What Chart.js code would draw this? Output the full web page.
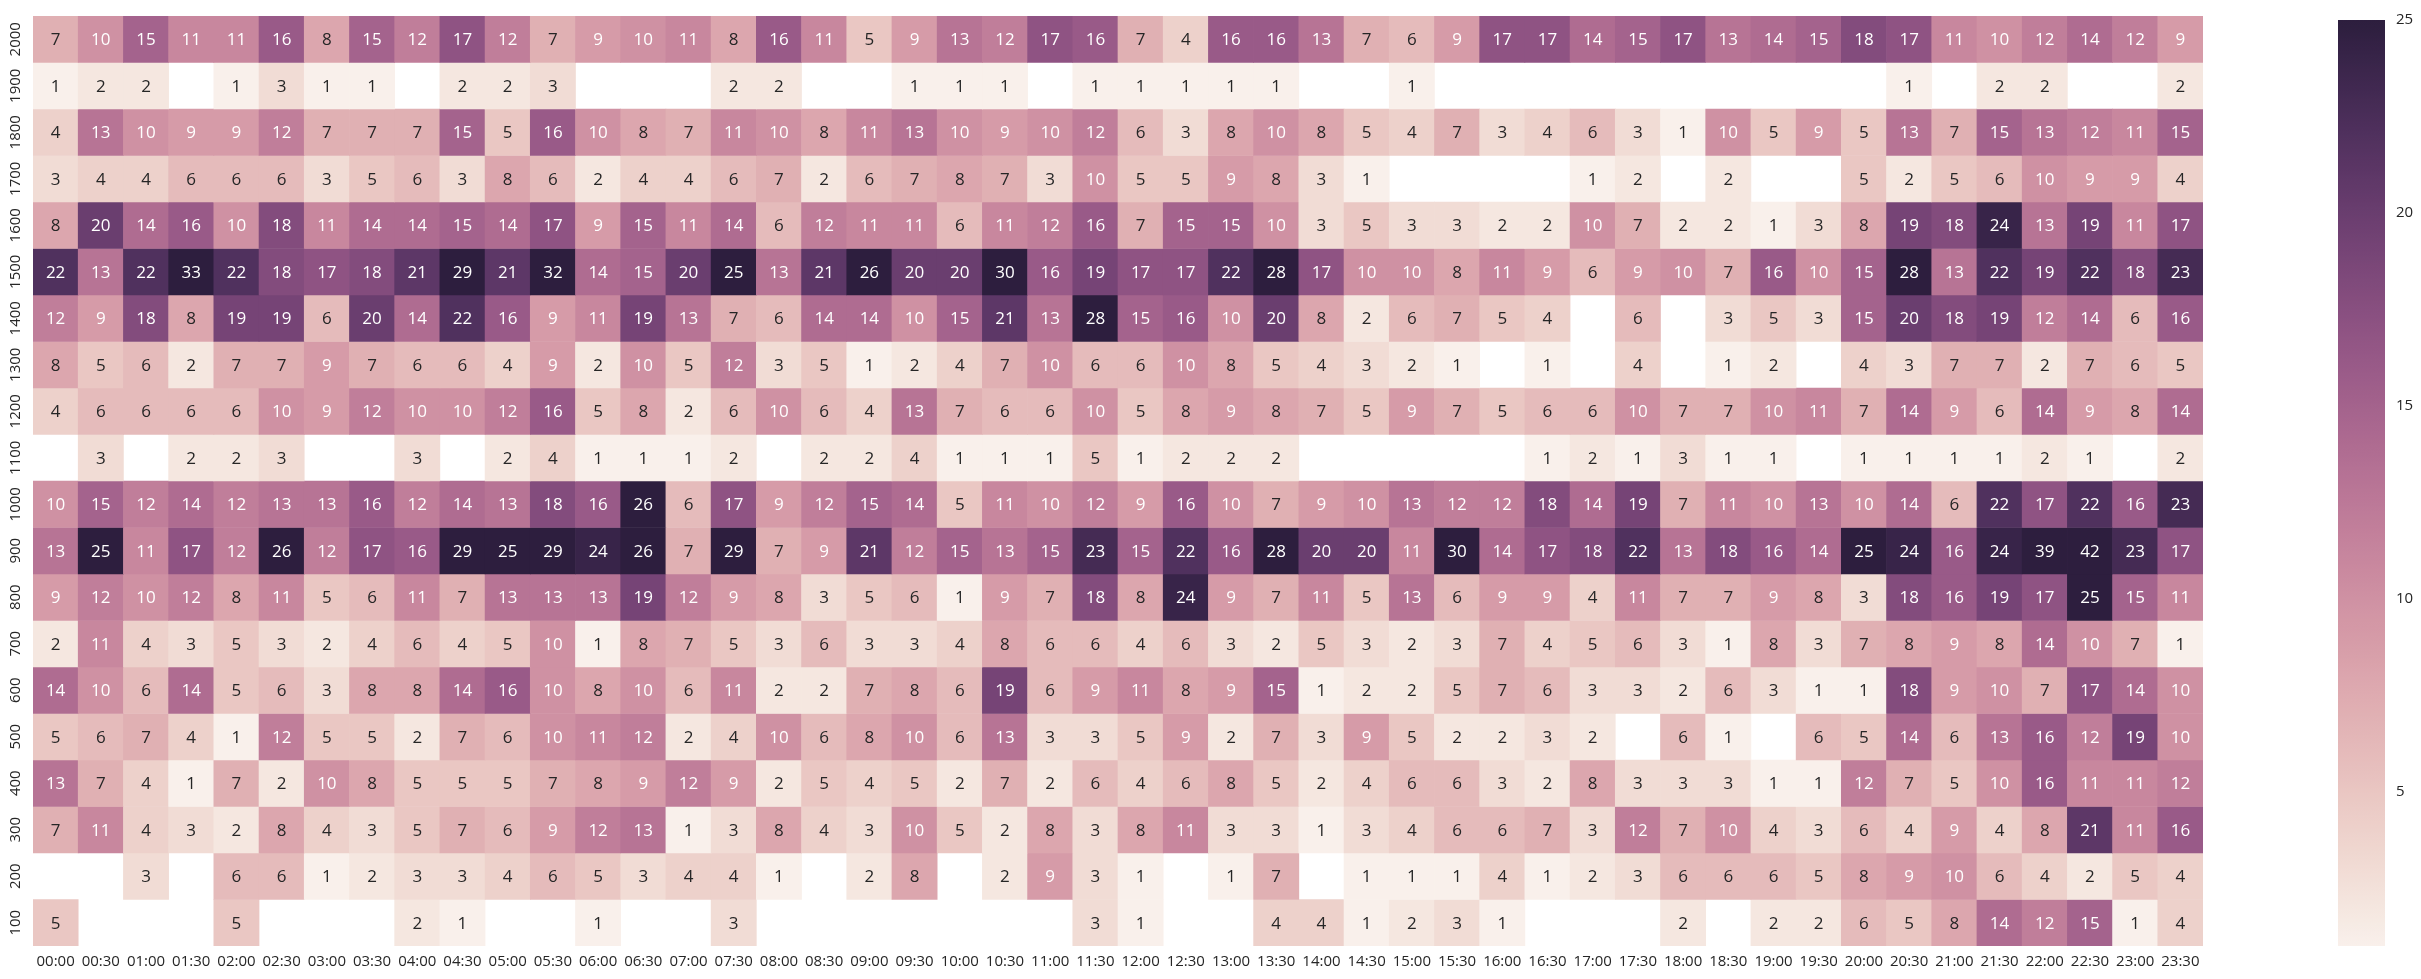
<!DOCTYPE html>
<html><head><meta charset="utf-8">
<script src="https://cdn.jsdelivr.net/npm/chart.js@4"></script>
<style>
html,body{margin:0;padding:0;background:#fff;}
#wrap{position:relative;width:2421px;height:979px;overflow:hidden;}
#main{position:absolute;left:0;top:0;}
#cbar{position:absolute;left:2300px;top:0;}
</style></head><body>
<div id="wrap"><canvas id="main" width="2300" height="979"></canvas><canvas id="cbar" width="121" height="979"></canvas></div>
<script>
const _ = null;
const timeLabels = ['00:00','00:30','01:00','01:30','02:00','02:30','03:00','03:30','04:00','04:30','05:00','05:30',
  '06:00','06:30','07:00','07:30','08:00','08:30','09:00','09:30','10:00','10:30','11:00','11:30',
  '12:00','12:30','13:00','13:30','14:00','14:30','15:00','15:30','16:00','16:30','17:00','17:30',
  '18:00','18:30','19:00','19:30','20:00','20:30','21:00','21:30','22:00','22:30','23:00','23:30'];
const rowLabels = ['2000','1900','1800','1700','1600','1500','1400','1300','1200','1100','1000','900','800','700','600','500','400','300','200','100'];

const row2000 = [7,10,15,11,11,16,8,15,12,17,12,7,9,10,11,8,16,11,5,9,13,12,17,16,7,4,16,16,13,7,6,9,17,17,14,15,17,13,14,15,18,17,11,10,12,14,12,9];
const row1900 = [1,2,2,_,1,3,1,1,_,2,2,3,_,_,_,2,2,_,_,1,1,1,_,1,1,1,1,1,_,_,1,_,_,_,_,_,_,_,_,_,_,1,_,2,2,_,_,2];
const row1800 = [4,13,10,9,9,12,7,7,7,15,5,16,10,8,7,11,10,8,11,13,10,9,10,12,6,3,8,10,8,5,4,7,3,4,6,3,1,10,5,9,5,13,7,15,13,12,11,15];
const row1700 = [3,4,4,6,6,6,3,5,6,3,8,6,2,4,4,6,7,2,6,7,8,7,3,10,5,5,9,8,3,1,_,_,_,_,1,2,_,2,_,_,5,2,5,6,10,9,9,4];
const row1600 = [8,20,14,16,10,18,11,14,14,15,14,17,9,15,11,14,6,12,11,11,6,11,12,16,7,15,15,10,3,5,3,3,2,2,10,7,2,2,1,3,8,19,18,24,13,19,11,17];
const row1500 = [22,13,22,33,22,18,17,18,21,29,21,32,14,15,20,25,13,21,26,20,20,30,16,19,17,17,22,28,17,10,10,8,11,9,6,9,10,7,16,10,15,28,13,22,19,22,18,23];
const row1400 = [12,9,18,8,19,19,6,20,14,22,16,9,11,19,13,7,6,14,14,10,15,21,13,28,15,16,10,20,8,2,6,7,5,4,_,6,_,3,5,3,15,20,18,19,12,14,6,16];
const row1300 = [8,5,6,2,7,7,9,7,6,6,4,9,2,10,5,12,3,5,1,2,4,7,10,6,6,10,8,5,4,3,2,1,_,1,_,4,_,1,2,_,4,3,7,7,2,7,6,5];
const row1200 = [4,6,6,6,6,10,9,12,10,10,12,16,5,8,2,6,10,6,4,13,7,6,6,10,5,8,9,8,7,5,9,7,5,6,6,10,7,7,10,11,7,14,9,6,14,9,8,14];
const row1100 = [_,3,_,2,2,3,_,_,3,_,2,4,1,1,1,2,_,2,2,4,1,1,1,5,1,2,2,2,_,_,_,_,_,1,2,1,3,1,1,_,1,1,1,1,2,1,_,2];
const row1000 = [10,15,12,14,12,13,13,16,12,14,13,18,16,26,6,17,9,12,15,14,5,11,10,12,9,16,10,7,9,10,13,12,12,18,14,19,7,11,10,13,10,14,6,22,17,22,16,23];
const row900  = [13,25,11,17,12,26,12,17,16,29,25,29,24,26,7,29,7,9,21,12,15,13,15,23,15,22,16,28,20,20,11,30,14,17,18,22,13,18,16,14,25,24,16,24,39,42,23,17];
const row800  = [9,12,10,12,8,11,5,6,11,7,13,13,13,19,12,9,8,3,5,6,1,9,7,18,8,24,9,7,11,5,13,6,9,9,4,11,7,7,9,8,3,18,16,19,17,25,15,11];
const row700  = [2,11,4,3,5,3,2,4,6,4,5,10,1,8,7,5,3,6,3,3,4,8,6,6,4,6,3,2,5,3,2,3,7,4,5,6,3,1,8,3,7,8,9,8,14,10,7,1];
const row600  = [14,10,6,14,5,6,3,8,8,14,16,10,8,10,6,11,2,2,7,8,6,19,6,9,11,8,9,15,1,2,2,5,7,6,3,3,2,6,3,1,1,18,9,10,7,17,14,10];
const row500  = [5,6,7,4,1,12,5,5,2,7,6,10,11,12,2,4,10,6,8,10,6,13,3,3,5,9,2,7,3,9,5,2,2,3,2,_,6,1,_,6,5,14,6,13,16,12,19,10];
const row400  = [13,7,4,1,7,2,10,8,5,5,5,7,8,9,12,9,2,5,4,5,2,7,2,6,4,6,8,5,2,4,6,6,3,2,8,3,3,3,1,1,12,7,5,10,16,11,11,12];
const row300  = [7,11,4,3,2,8,4,3,5,7,6,9,12,13,1,3,8,4,3,10,5,2,8,3,8,11,3,3,1,3,4,6,6,7,3,12,7,10,4,3,6,4,9,4,8,21,11,16];
const row200  = [_,_,3,_,6,6,1,2,3,3,4,6,5,3,4,4,1,_,2,8,_,2,9,3,1,_,1,7,_,1,1,1,4,1,2,3,6,6,6,5,8,9,10,6,4,2,5,4];
const row100  = [5,_,_,_,5,_,_,_,2,1,_,_,1,_,_,3,_,_,_,_,_,_,_,3,1,_,_,4,4,1,2,3,1,_,_,_,2,_,2,2,6,5,8,14,12,15,1,4];

const rows = [row2000,row1900,row1800,row1700,row1600,row1500,row1400,row1300,row1200,row1100,
              row1000,row900,row800,row700,row600,row500,row400,row300,row200,row100];

const cbMin = 1, cbMax = 25;
const cbTicks = [5,10,15,20,25];

// seaborn cubehelix_palette(light=.95, dark=.15, start=0, rot=.4, hue=.8, gamma=1)
function cubehelix(x){
  const a = 0.8 * x * (1 - x) / 2;
  const phi = 2 * Math.PI * (0 / 3 + 0.4 * x);
  const c = Math.cos(phi), s = Math.sin(phi);
  const r = x + a * (-0.14861 * c + 1.78277 * s);
  const g = x + a * (-0.29227 * c - 0.90649 * s);
  const b = x + a * (1.97294 * c);
  const cl = v => Math.max(0, Math.min(1, v));
  return [cl(r), cl(g), cl(b)];
}
function rgbAtT(t){
  t = Math.max(0, Math.min(1, t));
  let idx = Math.min(255, Math.floor(t * 256));
  const x = 0.95 + (0.15 - 0.95) * idx / 255;
  return cubehelix(x);
}
function rgbFor(v){ return rgbAtT((v - cbMin) / (cbMax - cbMin)); }
function css(rgb){ return 'rgb(' + rgb.map(c => Math.round(c * 255)).join(',') + ')'; }
function lum(rgb){
  const l = rgb.map(c => c <= 0.03928 ? c / 12.92 : Math.pow((c + 0.055) / 1.055, 2.4));
  return 0.2126 * l[0] + 0.7152 * l[1] + 0.0722 * l[2];
}

const FONT = '"Open Sans", "Noto Sans", sans-serif';
Chart.defaults.font.family = FONT;
Chart.defaults.color = '#262626';

const datasets = rows.map((vals, i) => ({
  label: rowLabels[i],
  data: vals.map(v => v == null ? null : [i - 0.5, i + 0.5]),
  backgroundColor: vals.map(v => v == null ? 'rgba(0,0,0,0)' : css(rgbFor(v))),
  borderWidth: 0,
  barPercentage: 1,
  categoryPercentage: 1,
  grouped: false
}));

const annot = {
  id: 'annot',
  afterDatasetsDraw(chart){
    const {ctx, scales:{x, y}} = chart;
    ctx.save();
    ctx.font = '17px ' + FONT;
    ctx.textAlign = 'center';
    ctx.textBaseline = 'middle';
    rows.forEach((vals, i) => vals.forEach((v, j) => {
      if (v == null) return;
      ctx.fillStyle = lum(rgbFor(v)) > 0.408 ? '#262626' : '#ffffff';
      ctx.fillText(String(v), x.getPixelForValue(j), y.getPixelForValue(i) + 1);
    }));
    ctx.restore();
  }
};

new Chart(document.getElementById('main'), {
  type: 'bar',
  data: { labels: timeLabels, datasets },
  options: {
    responsive: false, animation: false, devicePixelRatio: 1,
    layout: { padding: { top: 16, right: 97, left: 0, bottom: 0 } },
    plugins: { legend: { display: false }, tooltip: { enabled: false } },
    scales: {
      x: {
        type: 'category', offset: true,
        grid: { display: false, drawTicks: false }, border: { display: false },
        ticks: { autoSkip: false, maxRotation: 0, minRotation: 0, padding: 7, font: { size: 15 }, color: '#262626' },
        afterFit: s => { s.height = 33; }
      },
      y: {
        type: 'linear', min: -0.5, max: 19.5, reverse: true,
        grid: { display: false, drawTicks: false }, border: { display: false },
        afterBuildTicks: s => { s.ticks = rowLabels.map((_, i) => ({ value: i })); },
        ticks: { autoSkip: false, minRotation: 90, maxRotation: 90, crossAlign: 'center', padding: 0,
                 font: { size: 15 }, color: '#262626', callback: v => rowLabels[v] },
        afterFit: s => { s.width = 33; }
      }
    }
  },
  plugins: [annot]
});

new Chart(document.getElementById('cbar'), {
  type: 'bar',
  data: { labels: ['c'], datasets: [{
    data: [[cbMin, cbMax]],
    borderWidth: 0, barPercentage: 1, categoryPercentage: 1,
    backgroundColor: (c) => {
      const chart = c.chart;
      const ys = chart.scales.y;
      if (!chart.chartArea || !ys) return 'rgba(0,0,0,0)';
      const y0 = ys.getPixelForValue(cbMin), y1 = ys.getPixelForValue(cbMax);
      const g = chart.ctx.createLinearGradient(0, y0, 0, y1);
      for (let k = 0; k <= 128; k++) g.addColorStop(k / 128, css(rgbAtT(k / 128)));
      return g;
    }
  }]},
  options: {
    responsive: false, animation: false, devicePixelRatio: 1,
    layout: { padding: { top: 16, bottom: 33, left: 38, right: 0 } },
    plugins: { legend: { display: false }, tooltip: { enabled: false } },
    scales: {
      x: { display: false },
      y: {
        position: 'right', min: cbMin, max: cbMax,
        grid: { display: false, drawTicks: false }, border: { display: false },
        afterBuildTicks: s => { s.ticks = cbTicks.map(v => ({ value: v })); },
        ticks: { padding: 11, font: { size: 15 }, color: '#262626' },
        afterFit: s => { s.width = 36; }
      }
    }
  }
});
</script>
</body></html>
